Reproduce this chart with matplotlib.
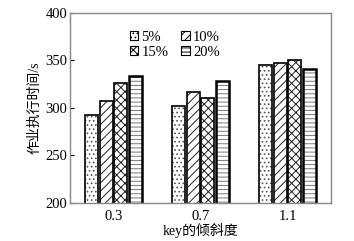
import matplotlib
matplotlib.use("Agg")
import matplotlib.pyplot as plt
import numpy as np

# données
groupes = ["0.3", "0.7", "1.1"]
series = ["5%", "10%", "15%", "20%"]
v5 = [293, 302, 345]
v10 = [307, 317, 347]
v15 = [326, 310, 351]
v20 = [334, 328, 341]
valeurs = [v5, v10, v15, v20]

hachures = ["....", "////", "xxxx", "----"]
couleurs_hach = ["#555555", "#222222", "#222222", "#777777"]
epaisseurs = [1.2, 1.2, 1.2, 1.8]

plt.rcParams["font.family"] = ["Liberation Serif", "Noto Sans CJK SC"]
plt.rcParams["hatch.linewidth"] = 0.7

fig = plt.figure(figsize=(3.54, 2.41), dpi=100)
ax = fig.add_axes([0.198, 0.158, 0.737, 0.788])

x = np.arange(len(groupes))
larg = 0.167
poignees = []
for i, nom in enumerate(series):
    pos = x + (i - 1.5) * larg
    # fond hachuré puis contour noir
    ax.bar(pos, valeurs[i], width=larg * 0.88, color="white",
           edgecolor=couleurs_hach[i], hatch=hachures[i], linewidth=0)
    ax.bar(pos, valeurs[i], width=larg * 0.88, color="none",
           edgecolor="black", linewidth=epaisseurs[i])
    h = ax.bar([np.nan], [np.nan], color="white", edgecolor="black",
               hatch=hachures[i], linewidth=0.8, label=nom)
    poignees.append(h)

ax.set_xlim(-0.5, 2.5)
ax.set_ylim(200, 400)
ax.set_yticks([200, 250, 300, 350, 400])
ax.set_xticks(x)
ax.set_xticklabels(groupes)
ax.tick_params(axis="x", length=0, labelsize=10.5, pad=5)
ax.tick_params(axis="y", length=3, direction="in", labelsize=10.5, pad=2)
for s in ax.spines.values():
    s.set_color("#888888")
    s.set_linewidth(1.0)

ax.set_xlabel("key的倾斜度", fontsize=10, labelpad=0)
ax.set_ylabel("作业执行时间/s", fontsize=10, labelpad=3)

# ordre pour avoir 5% 10% sur la première ligne
ordre = [0, 2, 1, 3]
ax.legend([poignees[k] for k in ordre], [series[k] for k in ordre],
          ncol=2, loc="upper left", bbox_to_anchor=(0.2, 0.945), frameon=False,
          fontsize=10.5, handlelength=0.6, handleheight=0.6, handletextpad=0.2,
          columnspacing=0.9, labelspacing=0.15, borderpad=0)

fig.savefig("out.png", dpi=100)
